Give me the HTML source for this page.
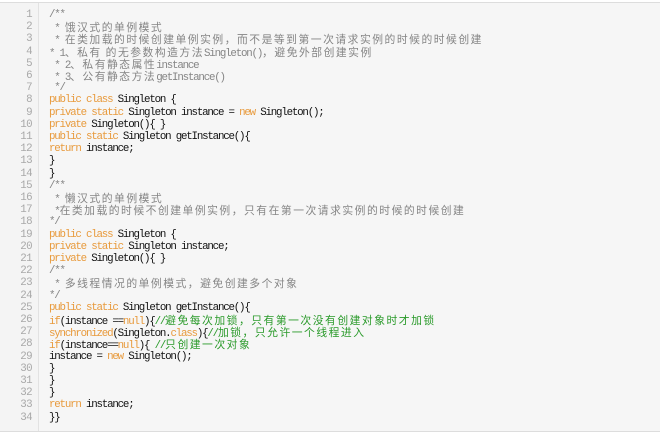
<!DOCTYPE html>
<html><head><meta charset="utf-8"><style>
body{margin:0;width:660px;height:433px;background:#fff;overflow:hidden}
.box{position:absolute;left:0;top:2px;width:660px;height:428px;background:#f6f6f6;border-top:1px solid #ddd;border-bottom:1px solid #ddd}
.gut{position:absolute;left:0;top:0;width:38px;height:100%;border-right:1px solid #e2e2e2;background:#f4f4f4}
.l{position:absolute;left:0;height:12px;line-height:12px;white-space:pre;font-family:"Liberation Mono","Noto Sans CJK SC",monospace;font-size:10.8px;letter-spacing:-1.2px;color:#111}
.n{position:absolute;width:32px;text-align:right;color:#a8a8a8;left:0;letter-spacing:-0.6px}
.t{position:absolute;left:49px}
.k{color:#e89a3c}
.g{color:#858585}
.gr{color:#2a9a2a}
.c{font-family:"Noto Sans CJK SC",sans-serif;font-size:10.8px;letter-spacing:1.5px}
</style></head><body>
<div class="box"><div class="gut"></div></div>
<div id="code"></div>
<script>
var L=[
'<span class="g">/**</span>',
'<span class="g"> * <span class="c">饿汉式的单例模式</span></span>',
'<span class="g"> * <span class="c">在类加载的时候创建单例实例，而不是等到第一次请求实例的时候的时候创建</span></span>',
'<span class="g">* 1<span class="c">、私有 的无参数构造方法</span>Singleton()<span class="c">，避免外部创建实例</span></span>',
'<span class="g"> * 2<span class="c">、私有静态属性</span>instance</span>',
'<span class="g"> * 3<span class="c">、公有静态方法</span>getInstance()</span>',
'<span class="g"> */</span>',
'<span class="k">public class</span> Singleton {',
'<span class="k">private static</span> Singleton instance = <span class="k">new</span> Singleton();',
'<span class="k">private</span> Singleton(){ }',
'<span class="k">public static</span> Singleton getInstance(){',
'<span class="k">return</span> instance;',
'}',
'}',
'<span class="g">/**</span>',
'<span class="g"> * <span class="c">懒汉式的单例模式</span></span>',
'<span class="g"> *<span class="c">在类加载的时候不创建单例实例，只有在第一次请求实例的时候的时候创建</span></span>',
'<span class="g">*/</span>',
'<span class="k">public class</span> Singleton {',
'<span class="k">private static</span> Singleton instance;',
'<span class="k">private</span> Singleton(){ }',
'<span class="g">/**</span>',
'<span class="g"> * <span class="c">多线程情况的单例模式，避免创建多个对象</span></span>',
'<span class="g">*/</span>',
'<span class="k">public static</span> Singleton getInstance(){',
'<span class="k">if</span>(instance ==<span class="k">null</span>){<span class="gr">//<span class="c">避免每次加锁，只有第一次没有创建对象时才加锁</span></span>',
'<span class="k">synchronized</span>(Singleton.<span class="k">class</span>){<span class="gr">//<span class="c">加锁，只允许一个线程进入</span></span>',
'<span class="k">if</span>(instance==<span class="k">null</span>){ <span class="gr">//<span class="c">只创建一次对象</span></span>',
'instance = <span class="k">new</span> Singleton();',
'}','}','}',
'<span class="k">return</span> instance;',
'}}'];
var h='';
for(var i=0;i<L.length;i++){var t=(9+i*12.2).toFixed(1);
h+='<div class="l" style="top:'+t+'px"><span class="n">'+(i+1)+'</span><span class="t">'+L[i]+'</span></div>';}
document.getElementById('code').innerHTML=h;
</script>
</body></html>
